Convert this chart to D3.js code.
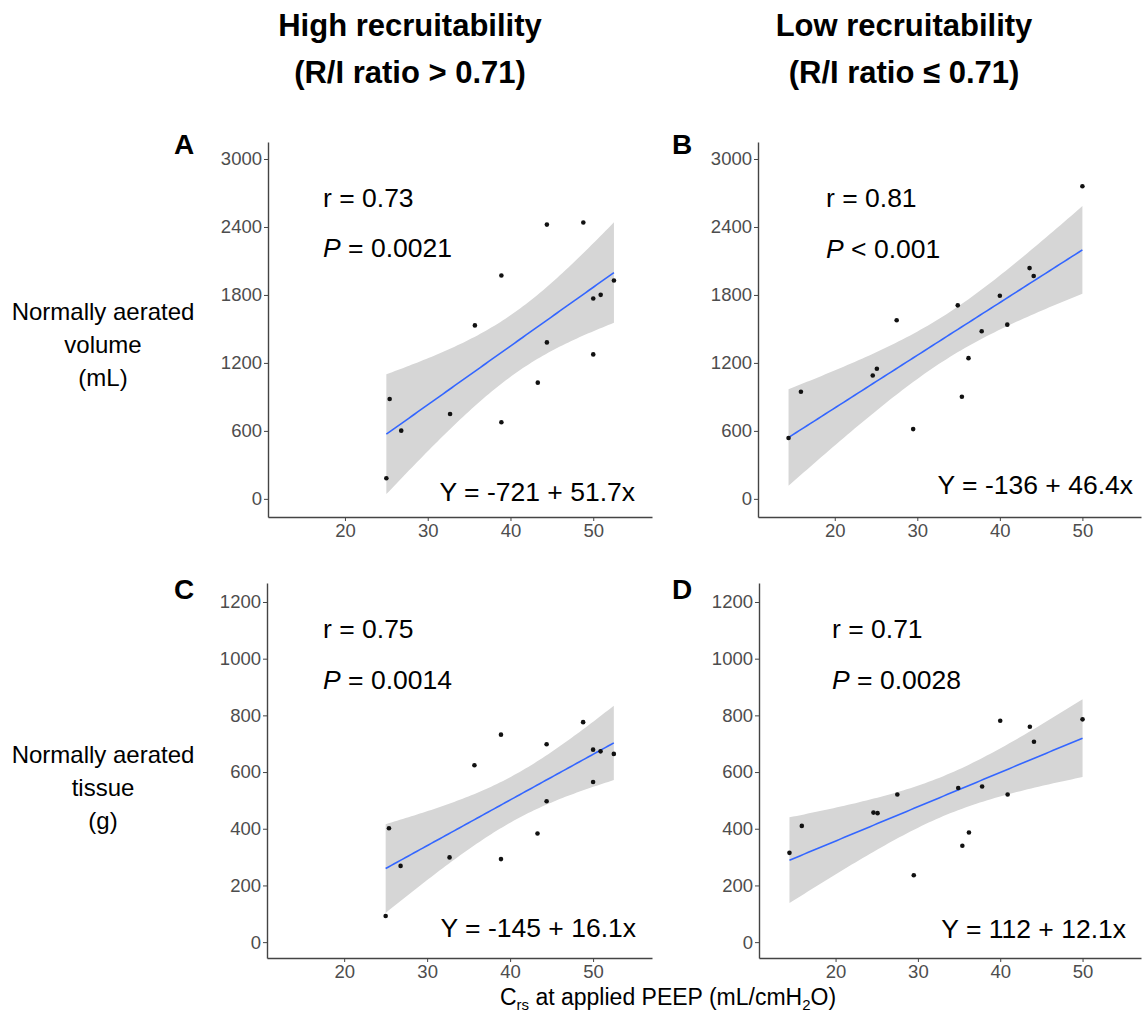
<!DOCTYPE html>
<html>
<head>
<meta charset="utf-8">
<script src="https://cdn.jsdelivr.net/npm/d3@7"></script>
<style>
  body { margin: 0; background: #fff; }
  text { font-family: "Liberation Sans", Arial, sans-serif; }
</style>
</head>
<body>
<div id="chart"></div>
<script>
// Crs at applied PEEP (x), one value per patient
const crsHigh = [25.0, 25.4, 26.8, 32.7, 35.7, 38.9, 38.9, 43.3, 44.4, 44.4, 48.8, 50.0, 50.0, 50.9, 52.5];
const crsLow  = [14.4, 15.9, 24.6, 25.1, 27.5, 29.5, 34.9, 35.4, 36.2, 37.8, 40.0, 40.9, 43.6, 44.1, 50.0];

// normally aerated volume (mL) and tissue (g)
const volumeHigh = [182, 882, 602, 749, 1531, 1972, 676, 1026, 2421, 1381, 2439, 1769, 1275, 1801, 1928];
const volumeLow  = [537, 945, 1089, 1148, 1576, 616, 1708, 901, 1242, 1479, 1793, 1538, 2037, 1967, 2759];
const tissueHigh = [92, 402, 269, 299, 624, 732, 293, 383, 698, 497, 776, 679, 565, 673, 664];
const tissueLow  = [315, 410, 457, 455, 521, 236, 544, 340, 387, 549, 781, 521, 760, 707, 786];

// tick labels
const xTicks = [20, 30, 40, 50];
const volumeTicks = [0, 600, 1200, 1800, 2400, 3000];
const tissueTicks = [0, 200, 400, 600, 800, 1000, 1200];

// annotation texts
const panelLetters = ["A", "B", "C", "D"];
const rTexts = ["0.73", "0.81", "0.75", "0.71"];
const pTexts = ["= 0.0021", "< 0.001", "= 0.0014", "= 0.0028"];
const eqTexts = ["Y = -721 + 51.7x", "Y = -136 + 46.4x", "Y = -145 + 16.1x", "Y = 112 + 12.1x"];

const tCrit = 2.160369; // t(0.975, df = 13)

const svg = d3.select("#chart")
  .append("svg")
  .attr("width", 1146)
  .attr("height", 1014);

// column titles
const titles = [
  { cx: 410, lines: ["High recruitability", "(R/I ratio > 0.71)"] },
  { cx: 904, lines: ["Low recruitability", "(R/I ratio \u2264 0.71)"] }
];
titles.forEach(t => {
  t.lines.forEach((l, i) => {
    svg.append("text")
      .attr("x", t.cx)
      .attr("y", 36 + i * 47)
      .attr("text-anchor", "middle")
      .style("font-size", "31px")
      .style("font-weight", "bold")
      .text(l);
  });
});

// row titles
const rowTitles = [
  { y: 320, lines: ["Normally aerated", "volume", "(mL)"] },
  { y: 763, lines: ["Normally aerated", "tissue", "(g)"] }
];
rowTitles.forEach(r => {
  r.lines.forEach((l, i) => {
    svg.append("text")
      .attr("x", 103)
      .attr("y", r.y + i * 33)
      .attr("text-anchor", "middle")
      .style("font-size", "24px")
      .text(l);
  });
});

// x axis title
const xt = svg.append("text")
  .attr("x", 668)
  .attr("y", 1005)
  .attr("text-anchor", "middle")
  .style("font-size", "23px");
xt.append("tspan").text("C");
xt.append("tspan").attr("dy", 5).style("font-size", "15px").text("rs");
xt.append("tspan").attr("dy", -5).text(" at applied PEEP (mL/cmH");
xt.append("tspan").attr("dy", 5).style("font-size", "15px").text("2");
xt.append("tspan").attr("dy", -5).text("O)");

const panels = [
  { xs: crsHigh, ys: volumeHigh, left: 268, right: 652, top: 142, bottom: 517, ydom: [-160, 3150], ticks: volumeTicks },
  { xs: crsLow,  ys: volumeLow,  left: 758, right: 1141, top: 142, bottom: 517, ydom: [-160, 3150], ticks: volumeTicks },
  { xs: crsHigh, ys: tissueHigh, left: 267, right: 652, top: 583, bottom: 958, ydom: [-56, 1267], ticks: tissueTicks },
  { xs: crsLow,  ys: tissueLow,  left: 759, right: 1141, top: 583, bottom: 958, ydom: [-56, 1267], ticks: tissueTicks }
];
// text offsets (r/P at left, equation bottom right)
const textPos = [
  { rx: 323, ry: 207, py: 257, ex: 635, ey: 501 },
  { rx: 826, ry: 207, py: 258, ex: 1133, ey: 494 },
  { rx: 323, ry: 638, py: 689, ex: 636, ey: 937 },
  { rx: 832, ry: 638, py: 689, ex: 1126, ey: 938 }
];
const letterPos = [[174, 154], [672, 154], [174, 599], [672, 599]];

panels.forEach((p, k) => {
  const x = d3.scaleLinear().domain([10.7, 57.1]).range([p.left, p.right]);
  const y = d3.scaleLinear().domain(p.ydom).range([p.bottom, p.top]);
  const g = svg.append("g");

  // linear fit with 95% confidence band
  const n = p.xs.length;
  const xbar = d3.mean(p.xs), ybar = d3.mean(p.ys);
  const sxx = d3.sum(p.xs, d => (d - xbar) ** 2);
  const sxy = d3.sum(p.xs, (d, i) => (d - xbar) * (p.ys[i] - ybar));
  const b = sxy / sxx, a = ybar - b * xbar;
  const sse = d3.sum(p.xs, (d, i) => (p.ys[i] - (a + b * d)) ** 2);
  const s = Math.sqrt(sse / (n - 2));
  const [x0, x1] = d3.extent(p.xs);
  const grid = d3.range(0, 81).map(i => x0 + (x1 - x0) * i / 80);
  const fit = grid.map(xv => {
    const yh = a + b * xv;
    const se = s * Math.sqrt(1 / n + (xv - xbar) ** 2 / sxx);
    return { x: xv, y: yh, lo: yh - tCrit * se, hi: yh + tCrit * se };
  });

  g.append("path")
    .datum(fit)
    .attr("fill", "#d6d6d6")
    .attr("d", d3.area().x(d => x(d.x)).y0(d => y(d.lo)).y1(d => y(d.hi)));

  g.append("path")
    .datum(fit)
    .attr("fill", "none")
    .attr("stroke", "#3366FF")
    .attr("stroke-width", 1.6)
    .attr("d", d3.line().x(d => x(d.x)).y(d => y(d.y)));

  g.selectAll("circle")
    .data(p.xs)
    .join("circle")
    .attr("cx", d => x(d))
    .attr("cy", (d, i) => y(p.ys[i]))
    .attr("r", 2.3)
    .attr("fill", "#111");

  // axes
  const ax = g.append("g")
    .attr("transform", `translate(0,${p.bottom})`)
    .call(d3.axisBottom(x).tickValues(xTicks).tickSize(4).tickSizeOuter(0).tickPadding(3));
  const ay = g.append("g")
    .attr("transform", `translate(${p.left},0)`)
    .call(d3.axisLeft(y).tickValues(p.ticks).tickFormat(d3.format("d")).tickSize(4).tickSizeOuter(0).tickPadding(2));
  [ax, ay].forEach(a => {
    a.select(".domain").attr("stroke", "#444").attr("stroke-width", 1.4);
    a.selectAll(".tick line").attr("stroke", "#444").attr("stroke-width", 1);
    a.selectAll(".tick text")
      .attr("fill", "#4d4d4d")
      .style("font-size", "18.5px")
      .style("font-family", "Liberation Sans, Arial, sans-serif");
  });

  // texts
  const tp = textPos[k];
  svg.append("text")
    .attr("x", tp.rx).attr("y", tp.ry)
    .style("font-size", "26.5px")
    .text("r = " + rTexts[k]);
  const pt = svg.append("text")
    .attr("x", tp.rx).attr("y", tp.py)
    .style("font-size", "26.5px");
  pt.append("tspan").style("font-style", "italic").text("P");
  pt.append("tspan").text(" " + pTexts[k]);
  svg.append("text")
    .attr("x", tp.ex).attr("y", tp.ey)
    .attr("text-anchor", "end")
    .style("font-size", "26.5px")
    .text(eqTexts[k]);

  svg.append("text")
    .attr("x", letterPos[k][0]).attr("y", letterPos[k][1])
    .style("font-size", "28px")
    .style("font-weight", "bold")
    .text(panelLetters[k]);
});
</script>
</body>
</html>
